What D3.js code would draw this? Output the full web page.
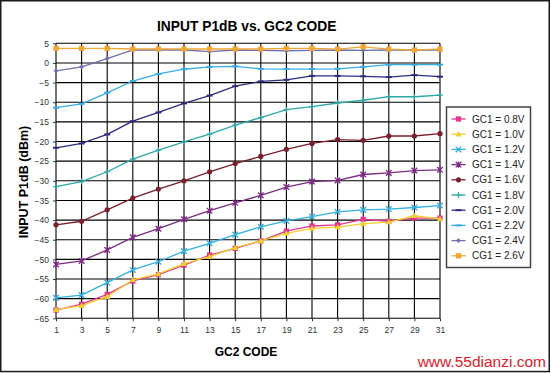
<!DOCTYPE html>
<html>
<head>
<meta charset="utf-8">
<script src="https://cdn.jsdelivr.net/npm/d3@7"></script>
<style>
	body { margin: 0; background: #fff; }
	#root { width: 551px; height: 373px; }
	text { font-family: "Liberation Sans", Arial, sans-serif; }
</style>
</head>
<body>
<div id="root"></div>
<script>
const codes = [1, 3, 5, 7, 9, 11, 13, 15, 17, 19, 21, 23, 25, 27, 29, 31];
const yTicks = [5, 0, -5, -10, -15, -20, -25, -30, -35, -40, -45, -50, -55, -60, -65];

const gc08 = [-62.9, -61.4, -58.9, -55.5, -53.9, -51.5, -48.9, -47.2, -45.3, -42.8, -41.5, -41.2, -39.8, -40.3, -39.5, -39.5];
const gc10 = [-62.8, -61.8, -59.5, -55.2, -53.7, -51.1, -49.3, -47.0, -45.3, -43.4, -42.1, -41.8, -40.9, -40.5, -38.9, -39.7];
const gc12 = [-59.8, -59.1, -55.9, -52.7, -50.6, -47.9, -45.9, -43.7, -41.7, -40.2, -39.1, -37.9, -37.4, -37.2, -36.8, -36.3];
const gc14 = [-51.3, -50.4, -47.6, -44.4, -42.2, -39.8, -37.6, -35.6, -33.7, -31.6, -30.2, -29.9, -28.4, -28.0, -27.4, -27.2];
const cg16 = [-41.2, -40.3, -37.4, -34.4, -32.1, -30.0, -27.7, -25.6, -23.8, -22.0, -20.5, -19.5, -19.7, -18.6, -18.6, -18.0];
const cg18 = [-31.5, -30.2, -27.7, -24.5, -22.2, -20.1, -18.1, -15.8, -13.9, -11.9, -11.1, -10.2, -9.5, -8.6, -8.6, -8.2];
const cg20 = [-21.6, -20.5, -18.2, -14.8, -12.6, -10.3, -8.3, -5.9, -4.7, -4.3, -3.3, -3.3, -3.4, -3.6, -3.1, -3.5];
const cg22 = [-11.4, -10.4, -7.6, -4.6, -2.8, -1.6, -1.0, -0.85, -1.5, -1.55, -1.55, -1.5, -1.0, -0.45, -0.45, -0.45];
const cg24 = [-2.0, -1.0, 1.1, 3.3, 3.3, 3.3, 2.9, 3.3, 3.2, 3.1, 3.2, 3.3, 3.2, 3.3, 3.3, 3.3];
const cg26 = [3.7, 3.7, 3.7, 3.55, 3.55, 3.55, 3.55, 3.55, 3.55, 3.7, 3.7, 3.5, 4.1, 3.5, 3.3, 3.5];

const seriesNames = ["GC1 = 0.8V", "GC1 = 1.0V", "GC1 = 1.2V", "GC1 = 1.4V", "CG1 = 1.6V",
	"CG1 = 1.8V", "CG1 = 2.0V", "CG1 = 2.2V", "CG1 = 2.4V", "CG1 = 2.6V"];
const seriesValues = [gc08, gc10, gc12, gc14, cg16, cg18, cg20, cg22, cg24, cg26];
const seriesColors = ["#e5358e", "#f2cf2a", "#33b0e0", "#7b2a82", "#7a1f2c",
	"#2ea7a7", "#2d2d80", "#36aee6", "#6f70aa", "#f0a632"];
const seriesMarkers = ["square", "triangle", "cross", "star", "circle",
	"plus", "dash", "dash", "diamond", "square"];

const plot = { left: 56, right: 440, top: 43.3, bottom: 318.3 };

const x = d3.scaleLinear().domain([1, 31]).range([plot.left, plot.right]);
const y = d3.scaleLinear().domain([5, -65]).range([plot.top, plot.bottom]);

const drawMarker = (g, type, color) => {
	if (type == "square") {
		g.append("rect").attr("x", -2.6).attr("y", -2.6).attr("width", 5.2).attr("height", 5.2).style("fill", color);
	} else if (type == "triangle") {
		g.append("path").attr("d", "M0,-3.2L3,2.3L-3,2.3Z").style("fill", color);
	} else if (type == "circle") {
		g.append("circle").attr("r", 2.6).style("fill", color);
	} else if (type == "diamond") {
		g.append("path").attr("d", "M0,-2.4L2.4,0L0,2.4L-2.4,0Z").style("fill", color);
	} else if (type == "cross") {
		g.append("path").attr("d", "M-2.8,-2.8L2.8,2.8M-2.8,2.8L2.8,-2.8").style("stroke", color).style("stroke-width", 1.3);
	} else if (type == "star") {
		g.append("path").attr("d", "M-2.8,-2.8L2.8,2.8M-2.8,2.8L2.8,-2.8M0,-3.2L0,3.2").style("stroke", color).style("stroke-width", 1.3);
	} else if (type == "plus") {
		g.append("path").attr("d", "M-2.8,0L2.8,0M0,-3L0,3").style("stroke", color).style("stroke-width", 1.2);
	} else if (type == "dash") {
		g.append("path").attr("d", "M-3,0L3,0").style("stroke", color).style("stroke-width", 2);
	}
};

const makeChart = () => {

	const svg = d3
				.select("#root")
					.append("svg")
						.attr("width", 551)
						.attr("height", 373);

	svg
		.append("rect")
			.attr("x", 0.75).attr("y", 0.75)
			.attr("width", 548.5).attr("height", 370.8)
			.style("fill", "#fff")
			.style("stroke", "#1a1a1a")
			.style("stroke-width", 1.5);

	renderGrid(svg);
	renderAxes(svg);
	renderSeries(svg);
	renderLegend(svg);
	renderTexts(svg);
};

const renderGrid = (svg) => {
	const grid = svg.append("g");

	grid
		.selectAll(".hline")
		.data(yTicks).enter()
		.append("line")
			.attr("x1", plot.left).attr("x2", plot.right)
			.attr("y1", d => y(d)).attr("y2", d => y(d))
			.style("stroke", "#000")
			.style("stroke-width", 1.1);

	grid
		.selectAll(".vline")
		.data(codes).enter()
		.append("line")
			.attr("x1", d => x(d)).attr("x2", d => x(d))
			.attr("y1", plot.top).attr("y2", plot.bottom)
			.style("stroke", "#000")
			.style("stroke-width", 1.1);
};

const renderAxes = (svg) => {
	const yAxis = svg
		.append("g")
		.attr("transform", `translate(${ plot.left }, 0)`)
		.call(d3.axisLeft(y).tickValues(yTicks).tickSize(3).tickPadding(4).tickFormat(d3.format("d")));

	const xAxis = svg
		.append("g")
		.attr("transform", `translate(0, ${ plot.bottom })`)
		.call(d3.axisBottom(x).tickValues(codes).tickSize(3).tickPadding(6).tickFormat(d3.format("d")));

	[xAxis, yAxis].forEach(ax => {
		ax.select(".domain").remove();
		ax.selectAll("line").style("stroke", "#333");
		ax.selectAll("text")
			.style("font-family", "'Liberation Sans', Arial, sans-serif")
			.style("font-size", "8.5px")
			.style("fill", "#333");
	});
};

const renderSeries = (svg) => {
	const line = d3.line()
				.x((d, i) => x(codes[i]))
				.y(d => y(d));

	seriesValues.forEach((values, k) => {
		const g = svg.append("g");

		g
			.append("path")
			.attr("d", line(values))
			.style("fill", "none")
			.style("stroke", seriesColors[k])
			.style("stroke-width", 1.3);

		g
			.selectAll(".mark")
			.data(values).enter()
			.append("g")
				.attr("transform", (d, i) => `translate(${ x(codes[i]) }, ${ y(d) })`)
				.each(function () { drawMarker(d3.select(this), seriesMarkers[k], seriesColors[k]); });
	});
};

const renderLegend = (svg) => {
	const legend = svg
		.append("g")
		.attr("transform", "translate(446.5, 107)");

	legend
		.append("rect")
			.attr("width", 84)
			.attr("height", 160.5)
			.style("fill", "#fff")
			.style("stroke", "#444")
			.style("stroke-width", 1.5);

	const items = legend
		.selectAll(".item")
		.data(seriesNames).enter()
		.append("g")
			.attr("transform", (d, i) => `translate(0, ${ 12 + i * 15.2 })`);

	items
		.append("line")
			.attr("x1", 5).attr("x2", 19)
			.style("stroke", (d, i) => seriesColors[i])
			.style("stroke-width", 1.3);

	items
		.append("g")
			.attr("transform", "translate(12, 0)")
			.each(function (d, i) { drawMarker(d3.select(this), seriesMarkers[i], seriesColors[i]); });

	items
		.append("text")
			.attr("x", 25.5)
			.attr("y", 3.6)
			.style("font-size", "10px")
			.style("fill", "#222")
			.text(d => d);
};

const renderTexts = (svg) => {
	svg
		.append("text")
			.attr("x", 246.7).attr("y", 30.7)
			.attr("text-anchor", "middle")
			.style("font-size", "13.8px")
			.style("font-weight", "bold")
			.text("INPUT P1dB vs. GC2 CODE");

	svg
		.append("text")
			.attr("x", 246).attr("y", 356)
			.attr("text-anchor", "middle")
			.style("font-size", "12px")
			.style("font-weight", "bold")
			.text("GC2 CODE");

	svg
		.append("text")
			.attr("transform", "translate(27.5, 182) rotate(-90)")
			.attr("text-anchor", "middle")
			.style("font-size", "12.5px")
			.style("font-weight", "bold")
			.text("INPUT P1dB (dBm)");

	svg
		.append("text")
			.attr("x", 546).attr("y", 366.5)
			.attr("text-anchor", "end")
			.style("font-size", "15.5px")
			.style("fill", "#e0202a")
			.text("www.55dianzi.com");
};

makeChart();
</script>
</body>
</html>
